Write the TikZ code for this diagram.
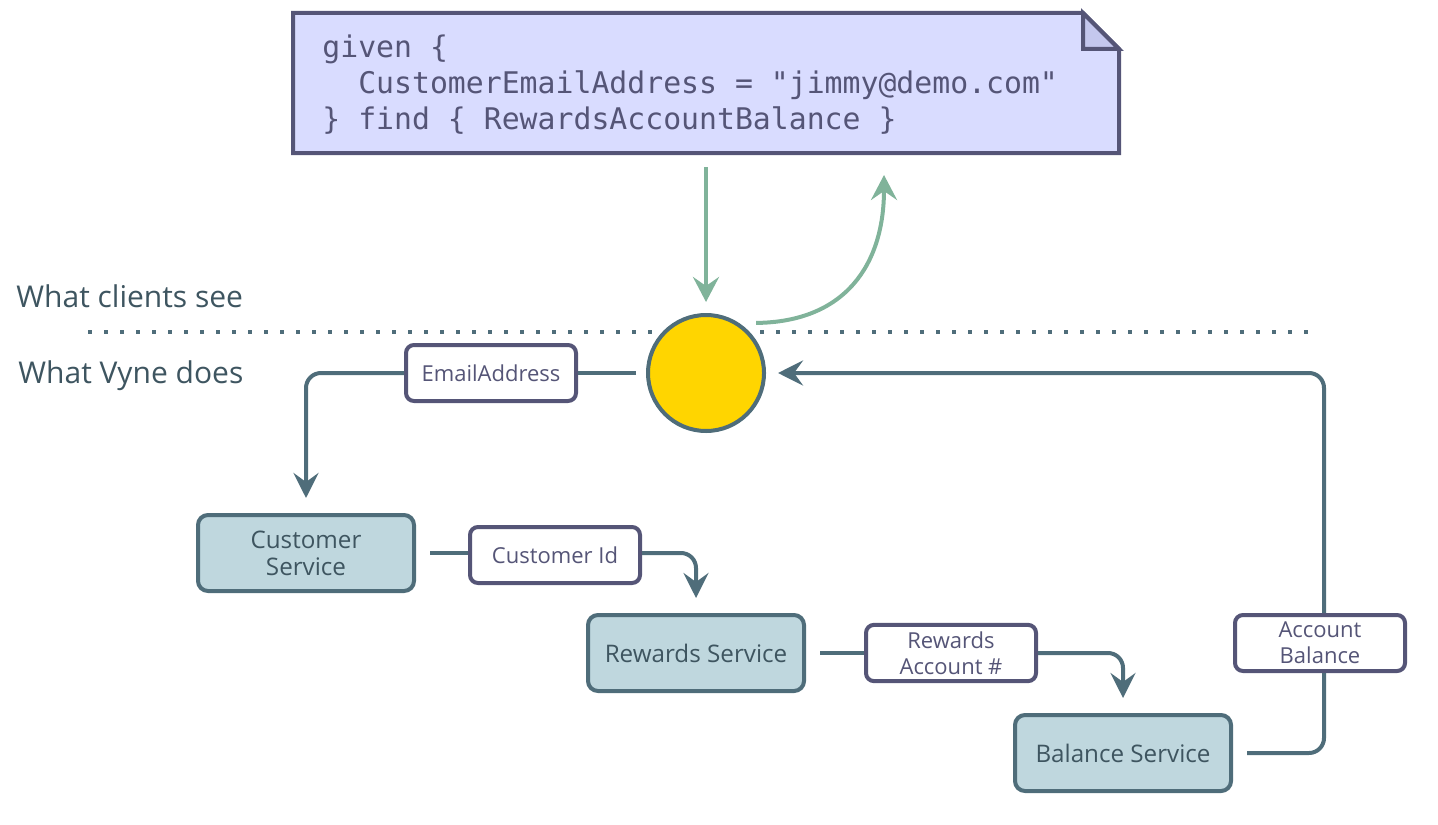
\documentclass[tikz,border=0pt]{standalone}
\usepackage{fontspec}
\setmainfont{Open Sans}
\newfontfamily\codefont{DejaVu Sans Mono}
\usepackage{xcolor}
\usepackage{tikz}
\usetikzlibrary{arrows.meta, positioning, calc}

\definecolor{slate}{HTML}{4F6D7A}
\definecolor{ink}{HTML}{3E5560}
\definecolor{plum}{HTML}{555577}
\definecolor{lavender}{HTML}{D9DCFF}
\definecolor{lavfold}{HTML}{C4C7EE}
\definecolor{svcfill}{HTML}{BFD7DE}
\definecolor{mint}{HTML}{80B39A}
\definecolor{sun}{HTML}{FFD500}

\tikzset{
  service/.style={draw=slate, fill=svcfill, line width=2pt, rounded corners=5pt,
    minimum width=108pt, minimum height=38pt, align=center, text=ink,
    font=\fontsize{12.1}{13.5}\selectfont},
  fact/.style={draw=plum, fill=white, line width=2pt, rounded corners=4pt,
    minimum width=85pt, minimum height=28pt, align=center, text=plum,
    font=\fontsize{11}{13}\selectfont},
  flow/.style={draw=slate, line width=2pt, rounded corners=7.5pt},
  tip/.style={-{Stealth[length=12.5pt, width=12.5pt, inset=4.5pt]}},
  clientflow/.style={draw=mint, line width=2pt, -{Stealth[length=12.5pt, width=13pt, inset=4.5pt]}},
  side/.style={anchor=west, inner sep=0pt, text=ink, font=\fontsize{15}{16}\selectfont}
}

\begin{document}
\begin{tikzpicture}[x=0.5pt, y=-0.5pt]
\useasboundingbox (0,0) rectangle (1438,824);

\node [outer sep=0pt, minimum width=413pt, minimum height=70pt] (code) at (706,83) {};
\draw [plum, fill=lavender, line width=2pt, line join=miter]
    (code.south west) -- (code.north west) -- ([xshift=-18pt]code.north east)
    -- ([yshift=-18pt]code.north east) -- (code.south east) -- cycle;
\draw [plum, fill=lavfold, line width=2pt, line join=miter]
    ([xshift=-18pt]code.north east) -- ([shift={(-18pt,-18pt)}]code.north east)
    -- ([yshift=-18pt]code.north east) -- cycle;
\node [anchor=west, align=left, text=plum, inner sep=0pt,
    font=\codefont\fontsize{14.9}{18}\selectfont] (query text) at (322,85)
    {given \{\\
     \phantom{xx}CustomerEmailAddress = "jimmy@demo.com"\\
     \} find \{ RewardsAccountBalance \}};

\node [side] (clients) at (16,296) {What clients see};
\node [side] (vyne) at (18,376) {What Vyne does};
\draw [slate, line width=2pt, dash pattern=on 2pt off 6pt] (88,332) -- (1308,332);

\node [circle, draw=slate, fill=sun, line width=2pt, minimum size=58pt] (query) at (706,373) {};

\node [service] (custsvc) at (306,553) {Customer\\Service};
\node [service] (rewsvc) at (696,653) {Rewards Service};
\node [service] (balsvc) at (1123,753) {Balance Service};

\node [fact] (email) at (491,373) {EmailAddress};
\node [fact] (custid) at (555,555) {Customer Id};
\node [fact] (rewacct) at (951,653) {Rewards\\Account \#};
\node [fact] (acctbal) at (1320,643) {Account\\Balance};

\draw [clientflow, shorten <=7pt, shorten >=5.5pt] (code.south) -- (query.north);
\coordinate (replyfoot) at ($(query.center)!1.18!(query.45)$);
\coordinate (replytip) at (884,175);
\draw [clientflow] (replyfoot) .. controls (845,322) and (884,265) .. (replytip);

\draw [flow] ([xshift=-5pt]query.west) -- (email.east);
\draw [flow, tip, shorten >=7.5pt] (email.west) -| (custsvc.north);
\draw [flow] ([xshift=7pt]custsvc.east) -- (custsvc.east -| custid.west);
\draw [flow, tip, shorten >=7.5pt] (custid.east |- custsvc.east) -| (rewsvc.north);
\draw [flow] ([xshift=7pt]rewsvc.east) -- (rewacct.west);
\draw [flow, tip, shorten >=7.5pt] (rewacct.east) -| (balsvc.north);
\draw [flow] ([xshift=7pt]balsvc.east) -| ([xshift=2pt]acctbal.south);
\draw [flow, tip, shorten >=6pt] ([xshift=2pt]acctbal.north) |- (query.east);
\end{tikzpicture}
\end{document}
